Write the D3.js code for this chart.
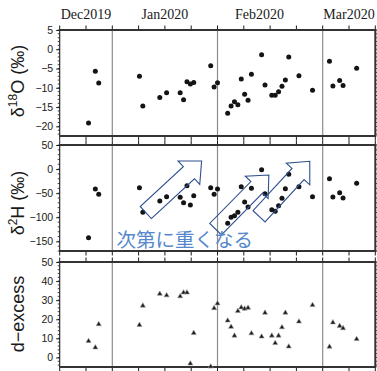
<!DOCTYPE html>
<html>
<head>
<meta charset="utf-8">
<script src="https://cdn.jsdelivr.net/npm/d3@7"></script>
<style>
  html, body { margin: 0; padding: 0; background: #fff; }
  svg { display: block; }
</style>
</head>
<body>
<svg id="chart" width="377" height="371"></svg>
<script>
// ---- data -------------------------------------------------------------
const sampleDates = [
  "2019-12-25", "2019-12-27", "2019-12-28",
  "2020-01-09", "2020-01-10", "2020-01-15", "2020-01-17", "2020-01-21",
  "2020-01-22", "2020-01-23", "2020-01-24", "2020-01-25", "2020-01-30",
  "2020-01-31",
  "2020-02-01", "2020-02-04", "2020-02-05", "2020-02-06", "2020-02-07",
  "2020-02-08", "2020-02-09", "2020-02-10", "2020-02-11", "2020-02-14",
  "2020-02-15", "2020-02-17", "2020-02-18", "2020-02-19", "2020-02-20",
  "2020-02-21", "2020-02-22", "2020-02-25", "2020-02-29",
  "2020-03-03", "2020-03-04", "2020-03-06", "2020-03-07", "2020-03-11"
];
const d18O = [
  -19.1, -5.7, -8.75,
  -7.0, -14.7, -12.5, -11.3, -11.3, -13.1, -8.4, -9.0, -8.6, -4.3, -9.8,
  -8.7, -16.6, -14.7, -13.6, -14.4, -7.7, -11.7, -13.2, -6.5, -1.4,
  -9.3, -11.9, -11.9, -11.0, -9.6, -8.0, -2.0, -6.9, -10.6,
  -3.1, -9.5, -8.1, -9.4, -4.9
];
const d2H = [
  -142.4, -41.3, -52.3,
  -38.6, -89.7, -66.2, -57.3, -58.6, -69.7, -34.4, -74.5, -55.2, -38.6, -52.3,
  -41.3, -112.6, -100.1, -96.7, -89.7, -36.5, -68.3, -78.7, -39.9, -1.3,
  -51.1, -84.3, -87.6, -76.0, -60.7, -40.7, -10.8, -36.5, -57.3,
  -19.9, -57.9, -49.0, -60.0, -29.5
];
const dExcess = [
  8.6, 5.2, 17.4,
  17.0, 27.1, 33.3, 32.5, 32.0, 34.0, 34.0, -3.2, 12.8, -4.8, 25.8,
  28.3, 19.3, 16.0, 11.4, 24.3, 26.2, 25.5, 26.0, 12.6, 10.9,
  23.4, 11.4, 7.5, 11.4, 15.8, 23.4, 5.7, 18.8, 27.4,
  5.6, 18.3, 16.5, 15.3, 9.6
];

// month axis: 0 = start of Dec 2019, each month one unit wide
const monthLabels = ["Dec2019", "Jan2020", "Feb2020", "Mar2020"];
const monthLabelAt = [0.75, 1.5, 2.4, 3.25];
const monthStarts = [1, 2, 3];
const monthDomain = [0.5, 3.5];

const ticks18O = [5, 0, -5, -10, -15, -20];
const ticks2H = [50, 0, -50, -100, -150];
const ticksDex = [50, 40, 30, 20, 10, 0];

// annotation in the δ2H panel: arrows given as [month, ‰] tail → tip
const trendNote = "次第に重くなる";
const trendArrows = [
  { from: [1.318, -90.1], to: [1.849, 16.8] },
  { from: [1.982, -124.8], to: [2.488, -12.3] },
  { from: [2.395, -98.0], to: [2.877, 16.2] }
];

// ---- helpers ----------------------------------------------------------
// each month is split into 31 equal day slots
function monthPos(s) {
  const [yy, mm, dd] = s.split("-").map(Number);
  return (yy - 2019) * 12 + (mm - 12) + (dd - 1) / 31;
}

const svg = d3.select("#chart");
const x = d3.scaleLinear().domain(monthDomain).range([59.7, 375.3]);
const quarterTicks = d3.range(monthDomain[0], monthDomain[1] + 0.001, 0.25);

const SANS = "'Liberation Sans', Arial, Helvetica, sans-serif";
const INK = "#1a1a1a";

const panels = [
  { values: d18O, domain: [-22.5, 5], ticks: ticks18O, minor: 1,
    top: 30, bottom: 136, mark: "circle", titleY: 81, title: "18O" },
  { values: d2H, domain: [-170, 50], ticks: ticks2H, minor: 10,
    top: 145, bottom: 251, mark: "circle", titleY: 203, title: "2H" },
  { values: dExcess, domain: [-5, 50], ticks: ticksDex, minor: 2,
    top: 262, bottom: 367, mark: "triangle", titleY: 314, title: "dex" }
];

const xs = sampleDates.map(monthPos);
const scales = [];

panels.forEach((p, pi) => {
  const y = d3.scaleLinear().domain(p.domain).range([p.bottom, p.top]);
  scales.push(y);
  const g = svg.append("g");
  const x0 = x.range()[0], x1 = x.range()[1];

  // month boundary lines
  g.selectAll("line.month").data(monthStarts).join("line")
    .attr("x1", d => x(d)).attr("x2", d => x(d))
    .attr("y1", p.top).attr("y2", p.bottom)
    .attr("stroke", "#8c8c8c").attr("stroke-width", 1.2);

  // minor ticks on both sides
  const minorVals = d3.range(Math.ceil(p.domain[0] / p.minor) * p.minor, p.domain[1] + 1e-9, p.minor);
  g.selectAll("line.minL").data(minorVals).join("line")
    .attr("x1", x0 - 2).attr("x2", x0)
    .attr("y1", d => y(d)).attr("y2", d => y(d))
    .attr("stroke", INK).attr("stroke-width", 0.8);
  g.selectAll("line.minR").data(minorVals).join("line")
    .attr("x1", x1).attr("x2", x1 + 2)
    .attr("y1", d => y(d)).attr("y2", d => y(d))
    .attr("stroke", INK).attr("stroke-width", 0.8);

  // left axis with labels
  const ax = g.append("g").attr("transform", `translate(${x0},0)`)
    .call(d3.axisLeft(y).tickValues(p.ticks).tickSize(3.5).tickPadding(3));
  ax.select(".domain").remove();
  ax.selectAll("line").attr("stroke", INK).attr("stroke-width", 1);
  ax.selectAll("text").attr("font-family", SANS).attr("font-size", 10.5).attr("fill", INK);

  // top and bottom month ticks
  g.selectAll("line.tt").data(quarterTicks).join("line")
    .attr("x1", d => x(d)).attr("x2", d => x(d))
    .attr("y1", p.top - 4.5).attr("y2", p.top)
    .attr("stroke", INK).attr("stroke-width", 1);
  g.selectAll("line.bt").data(quarterTicks).join("line")
    .attr("x1", d => x(d)).attr("x2", d => x(d))
    .attr("y1", p.bottom).attr("y2", p.bottom + 4.5)
    .attr("stroke", INK).attr("stroke-width", 1);

  // frame
  g.append("line").attr("x1", x0).attr("x2", x0).attr("y1", p.top).attr("y2", p.bottom)
    .attr("stroke", INK).attr("stroke-width", 1.1);
  g.append("line").attr("x1", x1).attr("x2", x1).attr("y1", p.top).attr("y2", p.bottom)
    .attr("stroke", "#333").attr("stroke-width", 2);
  g.append("line").attr("x1", x0).attr("x2", x1 + 1).attr("y1", p.top).attr("y2", p.top)
    .attr("stroke", "#333").attr("stroke-width", 2.2);
  g.append("line").attr("x1", x0).attr("x2", x1 + 1).attr("y1", p.bottom).attr("y2", p.bottom)
    .attr("stroke", "#333").attr("stroke-width", 2);

  // data marks
  const pts = p.values.map((v, i) => ({ x: xs[i], v }));
  if (p.mark === "circle") {
    g.selectAll("circle.pt").data(pts).join("circle")
      .attr("cx", d => x(d.x)).attr("cy", d => y(d.v))
      .attr("r", 2.5).attr("fill", "#141414");
  } else {
    const tri = d3.symbol().type(d3.symbolTriangle).size(11);
    g.selectAll("path.pt").data(pts).join("path")
      .attr("d", tri)
      .attr("transform", d => `translate(${x(d.x)},${y(d.v)})`)
      .attr("fill", "#1a1a1a").attr("stroke", "#9a9a9a").attr("stroke-width", 0.6);
  }

  // axis title
  const t = svg.append("text")
    .attr("transform", `translate(23.5,${p.titleY}) rotate(-90)`)
    .attr("text-anchor", "middle")
    .attr("font-family", SANS).attr("font-size", 18).attr("fill", INK);
  if (p.title === "dex") {
    t.text("d\u2212excess");
  } else {
    t.append("tspan").text("\u03b4");
    t.append("tspan").attr("font-size", 12).attr("dy", -7).text(p.title.replace(/[A-Z]/g, ""));
    t.append("tspan").attr("dy", 7).text(p.title.replace(/[0-9]/g, "") + " (\u2030)");
  }
});

// month names above the top panel
svg.selectAll("text.month").data(monthLabels).join("text")
  .attr("x", (d, i) => x(monthLabelAt[i]))
  .attr("y", 19)
  .attr("text-anchor", "middle")
  .attr("font-family", "'Liberation Serif', 'Times New Roman', Times, serif")
  .attr("font-size", 14)
  .attr("fill", INK)
  .text(d => d);

// trend arrows and note in the δ2H panel
const yH = scales[1];
const shaftHalf = 8.2, headHalf = 16, headLen = 17.3;
function arrowPath(a) {
  const t = [x(a.from[0]), yH(a.from[1])];
  const h = [x(a.to[0]), yH(a.to[1])];
  const L = Math.hypot(h[0] - t[0], h[1] - t[1]);
  const u = [(h[0] - t[0]) / L, (h[1] - t[1]) / L];
  const n = [-u[1], u[0]];
  const b = [h[0] - u[0] * headLen, h[1] - u[1] * headLen];
  const P = (o, k) => [o[0] + n[0] * k, o[1] + n[1] * k];
  const pts = [P(t, shaftHalf), P(b, shaftHalf), P(b, headHalf), h,
               P(b, -headHalf), P(b, -shaftHalf), P(t, -shaftHalf)];
  return d3.line()(pts) + "Z";
}
svg.append("g").selectAll("path").data(trendArrows).join("path")
  .attr("d", arrowPath)
  .attr("fill", "none")
  .attr("stroke", "#2f4f8f")
  .attr("stroke-width", 1.1)
  .attr("stroke-linejoin", "miter");

svg.append("text")
  .attr("x", 116.5).attr("y", 247)
  .attr("font-family", "'Noto Sans CJK JP', 'Noto Sans CJK SC', sans-serif")
  .attr("font-size", 19.5)
  .attr("fill", "#5587cc")
  .text(trendNote);
</script>
</body>
</html>
